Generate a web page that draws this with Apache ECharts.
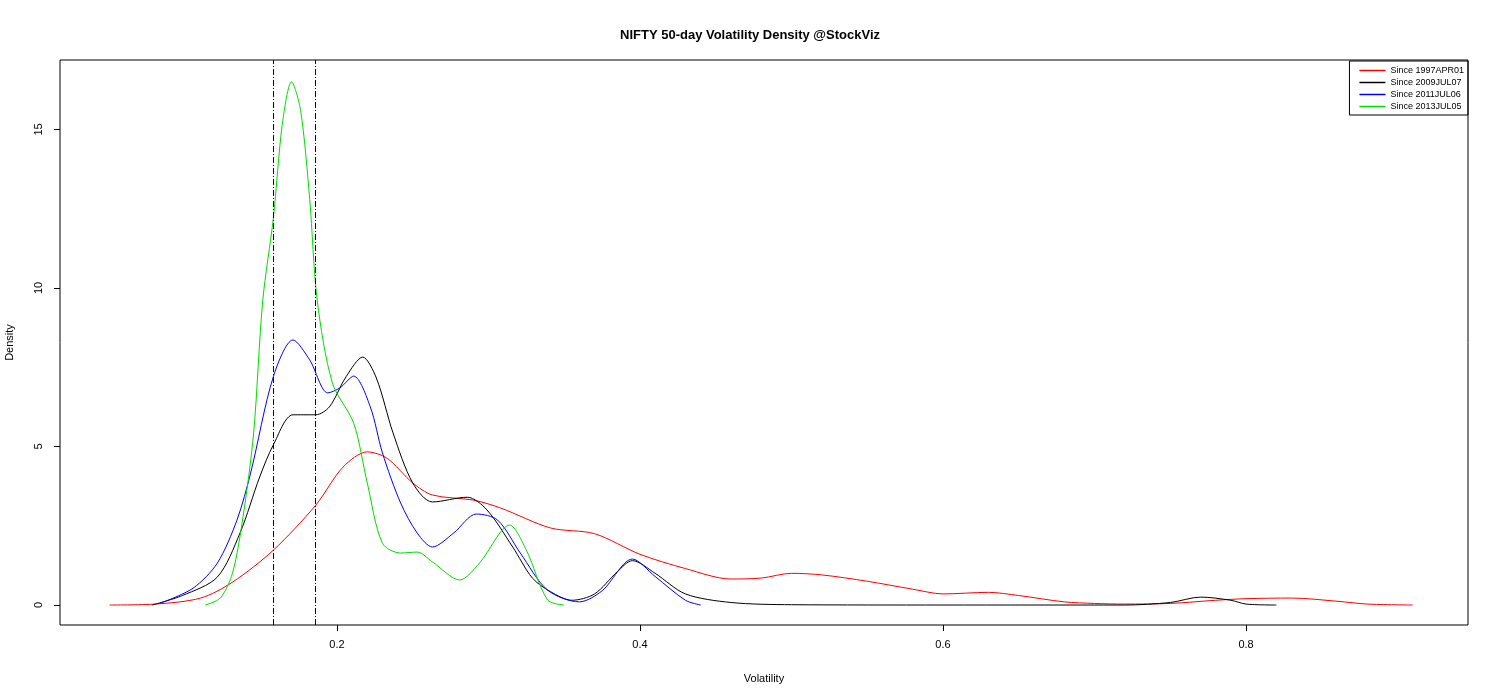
<!DOCTYPE html>
<html>
<head>
<meta charset="utf-8">
<script src="https://cdn.jsdelivr.net/npm/echarts@6/dist/echarts.min.js"></script>
<style>html,body{margin:0;background:#fff}#chart{width:1500px;height:700px}</style>
</head>
<body>
<div id="chart"></div>
<script>
const seriesNames = ['Since 1997APR01', 'Since 2009JUL07', 'Since 2011JUL06', 'Since 2013JUL05'];
const seriesColors = ['#ff0000', '#000000', '#0000ff', '#00dd00'];

const since1997 = [[0.05,0],[0.08,0.03],[0.11,0.22],[0.131,0.72],[0.158,1.73],[0.186,3.15],[0.204,4.35],[0.22,4.83],[0.233,4.63],[0.25,3.85],[0.263,3.47],[0.29,3.31],[0.308,3.06],[0.341,2.43],[0.37,2.25],[0.4,1.6],[0.43,1.15],[0.46,0.82],[0.48,0.85],[0.5,1.0],[0.52,0.95],[0.55,0.75],[0.58,0.5],[0.6,0.35],[0.63,0.4],[0.65,0.3],[0.68,0.1],[0.7,0.05],[0.72,0.03],[0.75,0.05],[0.78,0.15],[0.8,0.2],[0.83,0.22],[0.86,0.12],[0.88,0.03],[0.91,0]];
const since2009 = [[0.078,0],[0.098,0.3],[0.121,0.88],[0.136,2.27],[0.149,4.04],[0.158,5.05],[0.171,6.0],[0.186,6.0],[0.195,6.25],[0.206,7.2],[0.217,7.82],[0.226,7.16],[0.237,5.43],[0.25,3.85],[0.263,3.25],[0.286,3.4],[0.299,3.0],[0.316,1.83],[0.329,0.85],[0.341,0.42],[0.355,0.15],[0.37,0.35],[0.385,1.05],[0.395,1.4],[0.41,1.0],[0.43,0.35],[0.46,0.08],[0.5,0.01],[0.6,0],[0.72,0],[0.75,0.08],[0.77,0.25],[0.79,0.15],[0.8,0.03],[0.82,0]];
const since2011 = [[0.083,0.05],[0.105,0.53],[0.121,1.32],[0.134,2.68],[0.143,4.16],[0.158,7.2],[0.171,8.36],[0.182,7.73],[0.194,6.69],[0.202,6.85],[0.211,7.22],[0.222,6.25],[0.23,4.8],[0.242,3.22],[0.253,2.27],[0.263,1.83],[0.277,2.27],[0.292,2.87],[0.306,2.68],[0.321,1.64],[0.339,0.47],[0.36,0.1],[0.375,0.45],[0.395,1.45],[0.41,0.9],[0.43,0.15],[0.44,0]];
const since2013 = [[0.113,0],[0.123,0.22],[0.131,1.0],[0.138,2.78],[0.145,5.43],[0.151,9.6],[0.158,12.2],[0.164,15.2],[0.17,16.5],[0.176,15.6],[0.182,12.8],[0.187,9.6],[0.197,7.0],[0.211,5.74],[0.22,3.85],[0.23,1.95],[0.242,1.64],[0.253,1.67],[0.263,1.36],[0.281,0.79],[0.294,1.32],[0.314,2.52],[0.325,1.73],[0.339,0.16],[0.35,0]];
const seriesData = [since1997, since2009, since2011, since2013];
const markerX = [0.1578, 0.1855];
const xTicks = [0.2, 0.4, 0.6, 0.8];
const yTicks = [0, 5, 10, 15];

const font = 'Liberation Sans, Arial, sans-serif';
const chart = echarts.init(document.getElementById('chart'));
const series = seriesNames.map((name, i) => ({
    name,
    type: 'line',
    data: seriesData[i],
    smooth: 0.3,
    showSymbol: false,
    symbol: 'none',
    lineStyle: { color: seriesColors[i], width: 1 },
    itemStyle: { color: seriesColors[i] },
}));
series[0].markLine = {
    silent: true,
    symbol: 'none',
    precision: 4,
    label: { show: false },
    lineStyle: { color: '#000060', width: 1, type: [6, 2, 1, 2] },
    data: markerX.map((x) => ({ xAxis: x })),
};

const hiddenLine = { show: true, onZero: false, lineStyle: { color: 'rgba(0,0,0,0)' } };

chart.setOption({
    animation: false,
    backgroundColor: '#fff',
    title: {
        text: 'NIFTY 50-day Volatility Density @StockViz',
        left: 'center', top: 24,
        textStyle: { fontFamily: font, fontSize: 13, fontWeight: 'bold', color: '#000' },
    },
    legend: {
        data: seriesNames.map((n, i) => ({ name: n, itemStyle: { color: seriesColors[i] } })),
        orient: 'vertical',
        right: 32, top: 61,
        icon: 'rect', itemWidth: 26, itemHeight: 1.5, itemGap: 3,
        padding: [5, 4, 4, 10],
        borderColor: '#000', borderWidth: 1,
        textStyle: { fontFamily: font, fontSize: 9, color: '#000' },
    },
    grid: { left: 60, right: 32, top: 60, bottom: 75, containLabel: false, outerBoundsMode: 'none', show: true, borderColor: '#000', borderWidth: 1, backgroundColor: 'transparent' },
    xAxis: {
        type: 'value', min: 0.0172, max: 0.9465,
        name: 'Volatility', nameLocation: 'middle', nameGap: 48,
        nameTextStyle: { fontFamily: font, fontSize: 11, color: '#000' },
        axisLine: hiddenLine,
        splitLine: { show: false },
        axisTick: { show: true, length: 6, lineStyle: { color: '#000' }, customValues: xTicks },
        axisLabel: { fontFamily: font, fontSize: 11, color: '#000', margin: 14, customValues: xTicks, formatter: (v) => String(v) },
    },
    yAxis: {
        type: 'value', min: -0.63, max: 17.19,
        name: 'Density', nameLocation: 'middle', nameGap: 45,
        nameTextStyle: { fontFamily: font, fontSize: 11, color: '#000' },
        axisLine: hiddenLine,
        splitLine: { show: false },
        axisTick: { show: true, length: 6, lineStyle: { color: '#000' }, customValues: yTicks },
        axisLabel: { fontFamily: font, fontSize: 11, color: '#000', rotate: 90, margin: 16, customValues: yTicks },
    },
    series,
});
</script>
</body>
</html>
